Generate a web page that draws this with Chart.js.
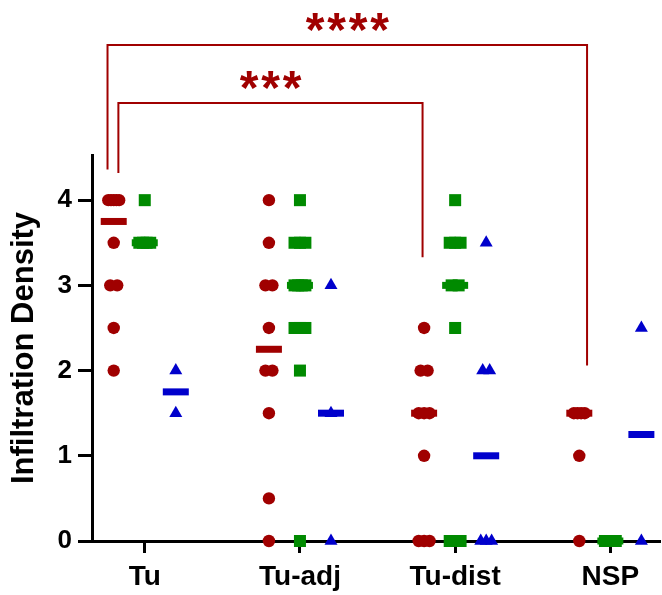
<!DOCTYPE html>
<html lang="en">
<head>
    <meta charset="UTF-8">
    <title>Infiltration Density</title>
    <script src="https://cdn.jsdelivr.net/npm/chart.js"></script>
    <style>
        body {
            margin: 0;
            background-color: #ffffff;
        }
        #chart-container {
            width: 662px;
            height: 595px;
        }
    </style>
</head>
<body>

<div id="chart-container">
    <canvas id="densityChart" width="662" height="595"></canvas>
</div>

<script>
    // Groups on the x axis
    const categories = ['Tu', 'Tu-adj', 'Tu-dist', 'NSP'];
    const yTicks = [0, 1, 2, 3, 4];

    // Individual scores per group (red circles, green squares, blue triangles)
    const redValues = [
        [4, 4, 4, 4, 4, 3.5, 3, 3, 2.5, 2],
        [4, 3.5, 3, 3, 2.5, 2, 2, 1.5, 0.5, 0],
        [2.5, 2, 2, 1.5, 1.5, 1.5, 1, 0, 0, 0],
        [1.5, 1.5, 1.5, 1.5, 1, 0]
    ];
    const greenValues = [
        [4, 3.5, 3.5, 3.5, 3.5],
        [4, 3.5, 3.5, 3.5, 3, 3, 3, 3, 2.5, 2.5, 2.5, 2, 0],
        [4, 3.5, 3.5, 3.5, 3, 3, 2.5, 0, 0, 0],
        [0, 0, 0]
    ];
    const blueValues = [
        [2, 1.5],
        [3, 1.5, 0],
        [3.5, 2, 2, 0, 0, 0],
        [2.5, 0]
    ];

    // Median bars
    const redMedians = [3.75, 2.25, 1.5, 1.5];
    const greenMedians = [3.5, 3, 3, 0];
    const blueMedians = [1.75, 1.5, 1, 1.25];

    // Significance comparisons (group indices)
    const comparisons = [
        { from: 0, to: 3, label: '****' },
        { from: 0, to: 2, label: '***' }
    ];

    const RED = '#a00000';
    const GREEN = '#008a00';
    const BLUE = '#0000cc';
    const FONT = "'Liberation Sans', Arial, sans-serif";

    // spread identical values a little sideways, like a scatter dot plot
    function toPoints(groups, shift) {
        const pts = [];
        groups.forEach((vals, g) => {
            const counts = {};
            vals.forEach(v => counts[v] = (counts[v] || 0) + 1);
            const seen = {};
            vals.forEach(v => {
                const n = counts[v];
                const k = seen[v] = (seen[v] || 0) + 1;
                const width = n === 2 ? 0.045 : 0.07;
                const dx = n > 1 ? ((k - 1) / (n - 1) - 0.5) * width : 0;
                pts.push({ x: g + 1 + shift + dx, y: v });
            });
        });
        return pts;
    }

    function medianPoints(meds, shift) {
        return meds.map((m, g) => ({ x: g + 1 + shift, y: m }));
    }

    const bracketPlugin = {
        id: 'brackets',
        afterDatasetsDraw(chart) {
            const { ctx, scales: { x, y } } = chart;
            // bracket geometry in axis units
            const layout = [
                { left: -0.24, right: -0.15, top: 5.82, leftEnd: 4.36, rightEnd: 2.06 },
                { left: -0.17, right: -0.21, top: 5.14, leftEnd: 4.32, rightEnd: 3.33 }
            ];
            ctx.save();
            ctx.strokeStyle = RED;
            ctx.fillStyle = RED;
            ctx.lineWidth = 2;
            comparisons.forEach((c, i) => {
                const l = layout[i];
                const x1 = x.getPixelForValue(c.from + 1 + l.left);
                const x2 = x.getPixelForValue(c.to + 1 + l.right);
                const yt = y.getPixelForValue(l.top);
                ctx.beginPath();
                ctx.moveTo(x1, y.getPixelForValue(l.leftEnd));
                ctx.lineTo(x1, yt);
                ctx.lineTo(x2, yt);
                ctx.lineTo(x2, y.getPixelForValue(l.rightEnd));
                ctx.stroke();

                // stars
                ctx.font = 'bold 48px ' + FONT;
                ctx.textAlign = 'center';
                ctx.textBaseline = 'alphabetic';
                const m = ctx.measureText('*');
                const pitch = 21.5;
                const cx = (x1 + x2) / 2;
                const cy = yt - 23;
                const base = cy + (m.actualBoundingBoxAscent - m.actualBoundingBoxDescent) / 2;
                const n = c.label.length;
                for (let s = 0; s < n; s++) {
                    ctx.fillText('*', cx + (s - (n - 1) / 2) * pitch, base);
                }
            });
            ctx.restore();
        }
    };

    const ctx = document.getElementById('densityChart').getContext('2d');

    new Chart(ctx, {
        type: 'scatter',
        data: {
            datasets: [
                {
                    data: medianPoints(redMedians, -0.2),
                    pointStyle: 'line', pointRadius: 13,
                    pointBorderWidth: 7, pointBorderColor: RED, clip: false
                },
                {
                    data: medianPoints(greenMedians, 0),
                    pointStyle: 'line', pointRadius: 13,
                    pointBorderWidth: 7, pointBorderColor: GREEN, clip: false
                },
                {
                    data: medianPoints(blueMedians, 0.2),
                    pointStyle: 'line', pointRadius: 13,
                    pointBorderWidth: 7, pointBorderColor: BLUE, clip: false
                },
                {
                    data: toPoints(redValues, -0.2),
                    pointStyle: 'circle', pointRadius: 6.2,
                    pointBackgroundColor: RED, pointBorderWidth: 0, clip: false
                },
                {
                    data: toPoints(greenValues, 0),
                    pointStyle: 'rect', pointRadius: 8.5,
                    pointBackgroundColor: GREEN, pointBorderWidth: 0, clip: false
                },
                {
                    data: toPoints(blueValues, 0.2),
                    pointStyle: 'triangle', pointRadius: 7.5,
                    pointBackgroundColor: BLUE, pointBorderWidth: 0, clip: false
                }
            ]
        },
        options: {
            responsive: false,
            animation: false,
            events: [],
            layout: {
                autoPadding: false,
                padding: { top: 155, right: 2, left: 0, bottom: 0 }
            },
            plugins: {
                legend: { display: false },
                tooltip: { enabled: false }
            },
            scales: {
                x: {
                    type: 'linear',
                    min: 0.66,
                    max: 4.32,
                    afterBuildTicks: s => { s.ticks = categories.map((c, i) => ({ value: i + 1 })); },
                    afterFit: s => {
                        s.height = 54;
                        s.paddingLeft = 0;
                        s.paddingRight = 0;
                    },
                    ticks: {
                        autoSkip: false,
                        maxRotation: 0,
                        padding: 7,
                        color: '#000',
                        font: { family: FONT, size: 28, weight: 'bold' },
                        callback: v => categories[v - 1]
                    },
                    grid: {
                        drawOnChartArea: false,
                        tickLength: 12,
                        tickWidth: 3,
                        tickColor: '#000'
                    },
                    border: { width: 3, color: '#000' }
                },
                y: {
                    min: 0,
                    max: 4.53,
                    afterBuildTicks: s => { s.ticks = yTicks.map(v => ({ value: v })); },
                    afterFit: s => {
                        s.width = 92;
                        s.paddingTop = 0;
                        s.paddingBottom = 0;
                    },
                    ticks: {
                        padding: 6,
                        color: '#000',
                        font: { family: FONT, size: 26, weight: 'bold' }
                    },
                    grid: {
                        drawOnChartArea: false,
                        tickLength: 14,
                        tickWidth: 3,
                        tickColor: '#000'
                    },
                    border: { width: 3, color: '#000' },
                    title: {
                        display: true,
                        text: 'Infiltration Density',
                        color: '#000',
                        font: { family: FONT, size: 31, weight: 'bold' },
                        padding: { top: 6, bottom: 0 }
                    }
                }
            }
        },
        plugins: [bracketPlugin]
    });
</script>

</body>
</html>
